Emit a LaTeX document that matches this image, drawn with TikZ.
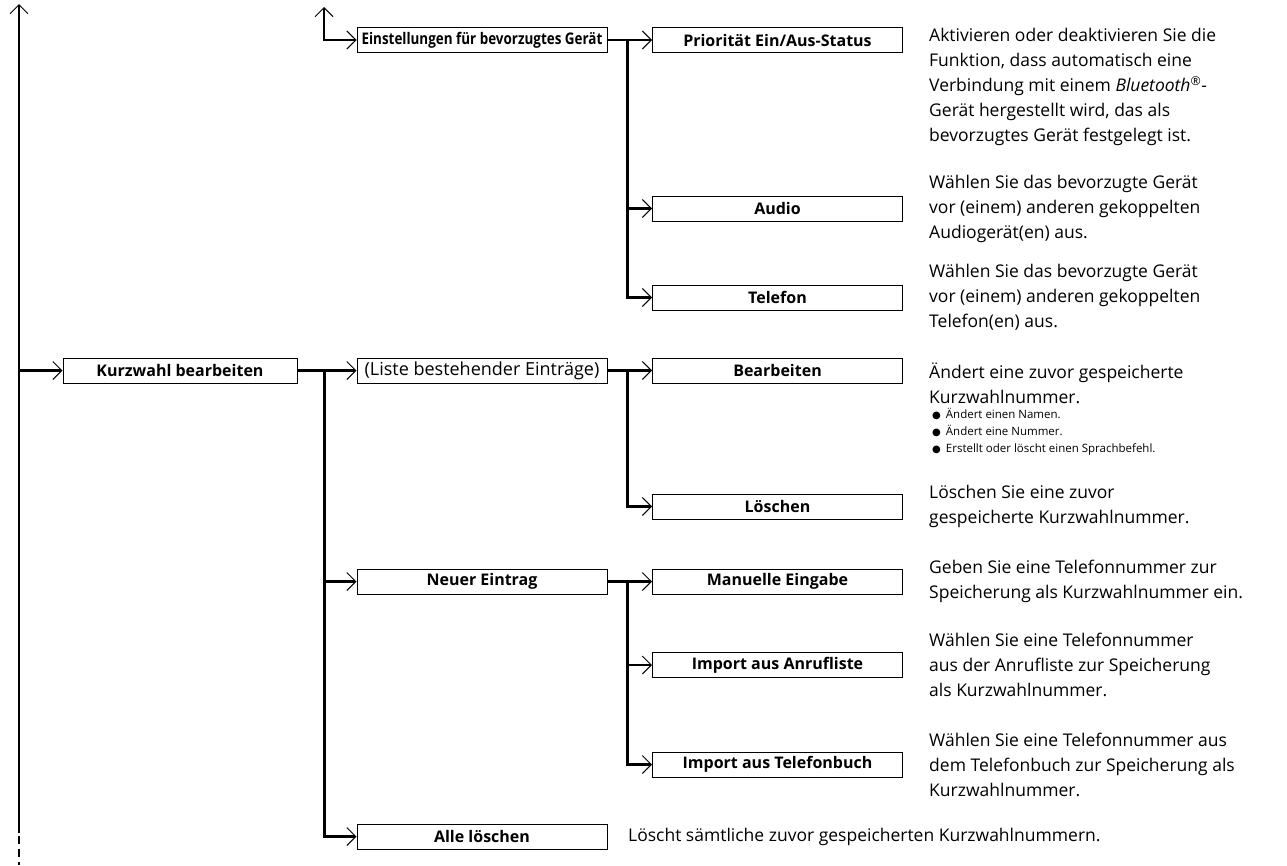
\documentclass[tikz,border=0pt]{standalone}
\usepackage{fontspec}
\setmainfont{Open Sans}
\newfontfamily\symbolfont{DejaVu Sans}
\usetikzlibrary{arrows.meta,calc}

\begin{document}
\begin{tikzpicture}[x=1pt,y=-1pt,
  >={Straight Barb[length=9pt,width=18pt,line width=1pt]},
  menu/.style={draw,line width=1pt,minimum width=250pt,minimum height=25pt,inner sep=0pt,font=\fontsize{16}{18}\selectfont\bfseries},
  info/.style={anchor=west,align=left,inner sep=0pt,font=\fontsize{17.5}{25}\selectfont},
  note/.style={anchor=west,align=left,inner sep=0pt,font=\fontsize{11.5}{17}\selectfont},
  wire/.style={line width=2.5pt}]
\useasboundingbox (0,0) rectangle (1287,865);
\newcommand{\punkt}{{\symbolfont\fontsize{10}{17}\selectfont ●}\hspace{5pt}}

% Menuepunkte
\node[menu] (einst) at (482,40) {\scalebox{0.84}[1]{Einstellungen für bevorzugtes Gerät}};
\node[menu] (prio) at (777.5,40) {Priorität Ein/Aus-Status};
\node[menu] (audio) at (777.5,208.5) {Audio};
\node[menu] (tel) at (777.5,297.5) {Telefon};
\node[menu,minimum width=234pt] (kurz) at (180,370.5) {Kurzwahl bearbeiten};
\node[menu,font=\fontsize{18}{20}\selectfont] (liste) at (482,370.5) {(Liste bestehender Einträge)};
\node[menu] (bearb) at (777.5,370.5) {Bearbeiten};
\node[menu] (losch) at (777.5,506.5) {Löschen};
\node[menu] (neu) at (482,581.5) {Neuer Eintrag};
\node[menu] (manu) at (777.5,581.5) {Manuelle Eingabe};
\node[menu] (anruf) at (777.5,665) {Import aus Anrufliste};
\node[menu] (tbuch) at (777.5,764.5) {Import aus Telefonbuch};
\node[menu] (alle) at (482,836.5) {Alle löschen};

% Erklaerungen
\node[info] (dprio) at (929,87) {Aktivieren oder deaktivieren Sie die\\Funktion, dass automatisch eine\\Verbindung mit einem \textit{Bluetooth}\textsuperscript{®}-\\Gerät hergestellt wird, das als\\bevorzugtes Gerät festgelegt ist.};
\node[info] (daudio) at (929,208.5) {Wählen Sie das bevorzugte Gerät\\vor (einem) anderen gekoppelten\\Audiogerät(en) aus.};
\node[info] (dtel) at (929,297.5) {Wählen Sie das bevorzugte Gerät\\vor (einem) anderen gekoppelten\\Telefon(en) aus.};
\node[info] (dbearb) at (929,383) {Ändert eine zuvor gespeicherte\\Kurzwahlnummer.};
\node[note] (dpunkte) at (932,432) {\punkt Ändert einen Namen.\\\punkt Ändert eine Nummer.\\\punkt Erstellt oder löscht einen Sprachbefehl.};
\node[info] (dlosch) at (929,506.5) {Löschen Sie eine zuvor\\gespeicherte Kurzwahlnummer.};
\node[info] (dmanu) at (929,581.5) {Geben Sie eine Telefonnummer zur\\Speicherung als Kurzwahlnummer ein.};
\node[info] (danruf) at (929,665) {Wählen Sie eine Telefonnummer\\aus der Anrufliste zur Speicherung\\als Kurzwahlnummer.};
\node[info] (dtbuch) at (929,764.5) {Wählen Sie eine Telefonnummer aus\\dem Telefonbuch zur Speicherung als\\Kurzwahlnummer.};
\node[info] (dalle) at (628,836.5) {Löscht sämtliche zuvor gespeicherten Kurzwahlnummern.};

% Verbindungen
\coordinate (top) at (19,4); \coordinate (cut) at (19,833); \coordinate (bottom) at (19,865);
\coordinate (up) at (324,7);
\draw[wire,->] (cut) -- (top);
\draw[wire,dash pattern=on 8pt off 5pt,dash phase=10pt] (cut) -- (bottom);
\draw[wire,<->] (up) |- (einst.west);
\coordinate (j1) at ($(einst.east)+(20,0)$);
\draw[wire,->] (einst) -- (prio);
\draw[wire,->] (j1) |- (audio.west);
\draw[wire,->] (j1) |- (tel.west);
\draw[wire,->] (top |- kurz) -- (kurz);
\draw[wire,->] (kurz) -- (liste);
\coordinate (j2) at ($(kurz.east)+(27,0)$);
\draw[wire,->] (j2) |- (neu.west);
\draw[wire,->] (j2) |- (alle.west);
\draw[wire,->] (liste) -- (bearb);
\coordinate (j3) at ($(liste.east)+(20,0)$);
\draw[wire,->] (j3) |- (losch.west);
\draw[wire,->] (neu) -- (manu);
\coordinate (j4) at ($(neu.east)+(20,0)$);
\draw[wire,->] (j4) |- (anruf.west);
\draw[wire,->] (j4) |- (tbuch.west);
\end{tikzpicture}
\end{document}
